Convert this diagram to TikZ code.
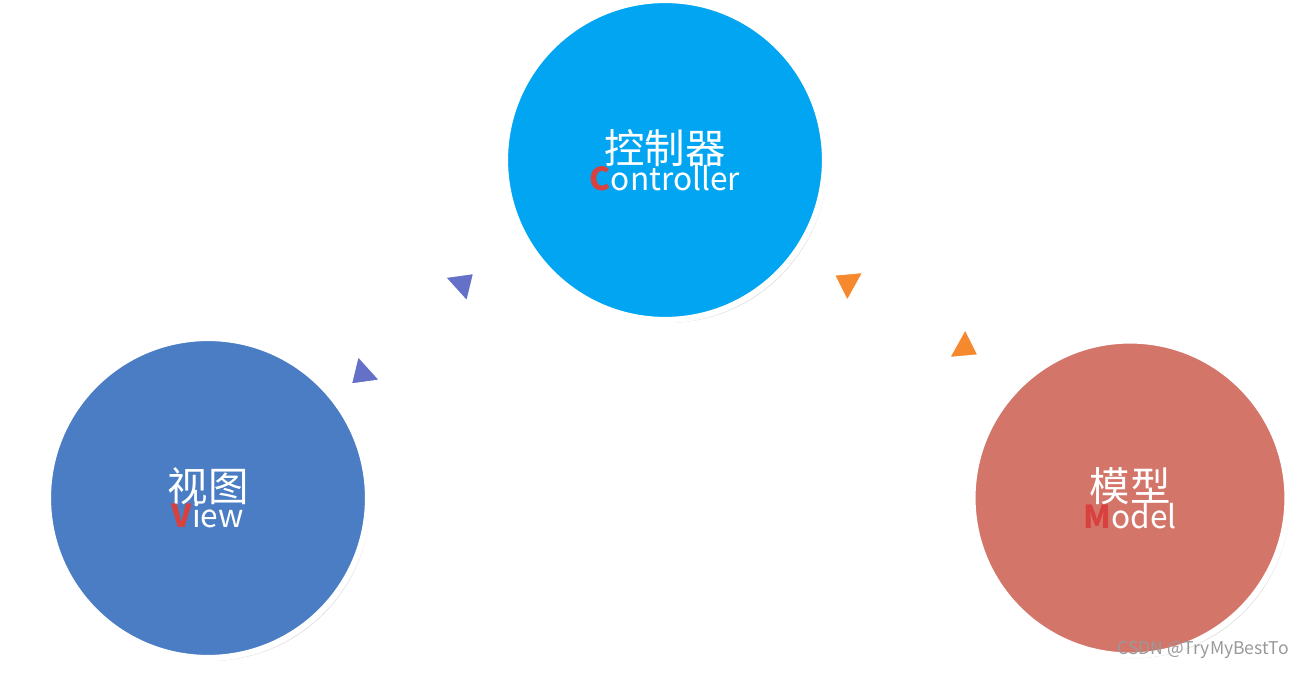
\documentclass[tikz,border=0pt]{standalone}
\usepackage{fontspec}
\setmainfont{Noto Sans CJK SC}
\usetikzlibrary{arrows.meta,shadows}

\definecolor{ctrlblue}{HTML}{02A5F1}
\definecolor{viewblue}{HTML}{4A7DC4}
\definecolor{modelred}{HTML}{D4756A}
\definecolor{letterred}{HTML}{D9413F}
\definecolor{tipblue}{HTML}{6570C8}
\definecolor{tiporange}{HTML}{F6882E}

\tikzset{
  ball/.style={circle, draw=white, line width=3.5pt, minimum size=#1,
    align=center, text=white, inner sep=0pt,
    drop shadow={shadow xshift=0.5mm, shadow yshift=-0.6mm, opacity=0.25}},
  link/.style={draw=white, line width=4pt,
    {Triangle[length=18pt, width=24pt, fill=#1, line width=2pt]}-{Triangle[length=18pt, width=24pt, fill=#1, line width=2pt]}},
}

\newcommand{\balltitle}[1]{{\fontsize{23}{26}\selectfont #1}}
\newcommand{\ballsub}[2]{{\fontsize{18}{20}\selectfont\textcolor{letterred}{\bfseries #1}#2}}

\begin{document}
\begin{tikzpicture}

\path [use as bounding box] (0,0) rectangle (26.14,13.5);

% NODES
\node [ball=6.4cm, fill=ctrlblue] (ctrl) at (13.3,10.3) {\balltitle{控制器}\\[-2pt]\ballsub{C}{ontroller}};
\node [ball=6.4cm, fill=viewblue] (view) at (4.16,3.54) {\balltitle{视图}\\[-2pt]\ballsub{V}{iew}};
\node [ball=6.3cm, fill=modelred] (model) at (22.6,3.54) {\balltitle{模型}\\[-2pt]\ballsub{M}{odel}};

% LINKS
\coordinate (vc0) at (6.95,5.75);
\coordinate (vc1) at (9.55,8.1);
\coordinate (cm0) at (16.6,8.05);
\coordinate (cm1) at (19.65,6.35);
\draw [link=tipblue] (vc0) -- (vc1);
\draw [link=tiporange] (cm0) -- (cm1);

% MARK
\node [text=gray!80, font=\fontsize{10}{12}\selectfont, anchor=south east] (mark) at (25.9,0.2) {CSDN @TryMyBestTo};

\end{tikzpicture}
\end{document}
